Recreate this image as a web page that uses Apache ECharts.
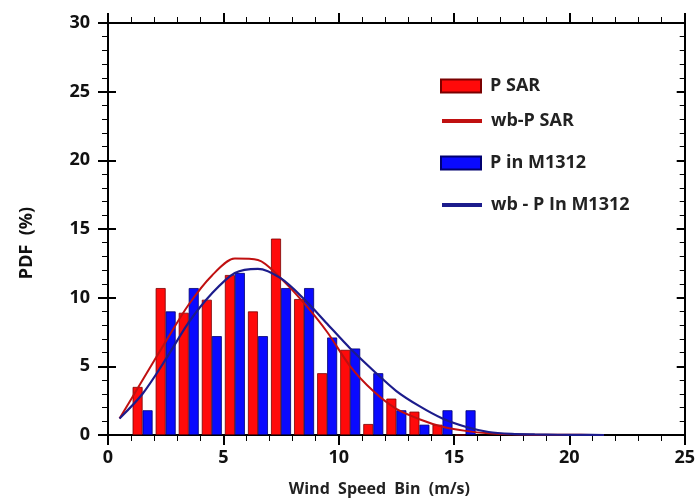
<!DOCTYPE html>
<html>
<head>
<meta charset="utf-8">
<script src="https://cdn.jsdelivr.net/npm/echarts@6/dist/echarts.min.js"></script>
<style>html,body{margin:0;padding:0;background:#fff}#c{width:698px;height:502px}</style>
</head>
<body>
<div id="c"></div>
<script>
// Bin centres (m/s)
const binCenters = [1.5, 2.5, 3.5, 4.5, 5.5, 6.5, 7.5, 8.5, 9.5, 10.5, 11.5, 12.5, 13.5, 14.5, 15.5];
// Histogram values (%)
const pSAR   = [3.5, 10.7, 8.9, 9.85, 11.65, 9.0, 14.3, 9.9, 4.5, 6.2, 0.8, 2.65, 1.7, 0.75, 0];
const pM1312 = [1.8, 9.0, 10.7, 7.2, 11.8, 7.2, 10.7, 10.7, 7.1, 6.3, 4.5, 1.8, 0.75, 1.8, 1.8];
// Fitted curves
const curveX    = [0.5, 1.5, 2.5, 3.5, 4.5, 5.5, 6.5, 7.5, 8.5, 9.5, 10.5, 11.5, 12.5, 13.5, 14.5, 15.5, 16.5, 17.5, 18.5, 19.5, 20.5, 21.5];
const wbSAR     = [1.2, 4.0, 6.8, 9.5, 11.6, 12.85, 12.75, 11.4, 9.6, 7.5, 5.0, 3.2, 1.9, 1.15, 0.6, 0.3, 0.12, 0.05, 0.02, 0.01, 0.01, 0];
const wbM1312   = [1.2, 3.0, 5.5, 8.2, 10.3, 11.8, 12.1, 11.4, 9.9, 8.1, 6.3, 4.7, 3.2, 2.1, 1.2, 0.6, 0.22, 0.08, 0.04, 0.02, 0.01, 0];
// Ticks
const xTicks = [0, 5, 10, 15, 20, 25];
const yTicks = [0, 5, 10, 15, 20, 25, 30];

const names = ['P SAR', 'wb-P SAR', 'P in M1312', 'wb - P In M1312'];
const zip = (xs, ys) => xs.map((x, i) => [x, ys[i]]);

const chart = echarts.init(document.getElementById('c'), null, {renderer: 'canvas'});
const axisLine = {show: true, onZero: false, lineStyle: {color: '#000', width: 2}};
const labelFont = {color: '#111', fontSize: 18, fontFamily: 'Open Sans', fontWeight: 'bold'};
const legendText = {color: '#222', fontSize: 18, fontFamily: 'Open Sans', fontWeight: 'bold', padding: [0, 0, 0, 4]};
const legendTops = [72, 107, 149, 191];

chart.setOption({
  animation: false,
  backgroundColor: '#fff',
  grid: {left: 108, right: 7, top: 23, bottom: 65, containLabel: false},
  legend: names.map((n, i) => ({
    data: [i % 2 === 0
      ? {name: n, icon: 'rect'}
      : {name: n, lineStyle: {width: 4}, itemStyle: {opacity: 0}}],
    left: 435, top: legendTops[i], itemWidth: 40, itemHeight: 13,
    textStyle: legendText, selectedMode: false
  })),
  xAxis: [{
    type: 'value', min: xTicks[0], max: xTicks[xTicks.length - 1], interval: 5, position: 'bottom',
    axisLine, splitLine: {show: false},
    axisTick: {show: true, length: 10, lineStyle: {color: '#000', width: 2}},
    minorTick: {show: true, splitNumber: 5, length: 6, lineStyle: {color: '#000', width: 1}},
    axisLabel: Object.assign({margin: 14}, labelFont),
    name: 'Wind  Speed  Bin  (m/s)', nameLocation: 'middle', nameGap: 46,
    nameTextStyle: {color: '#222', fontSize: 16, fontFamily: 'Open Sans', fontWeight: 'bold', padding: [0, 34, 0, 0]}
  }, {
    type: 'value', min: 0, max: 25, interval: 5, position: 'top',
    axisLine, splitLine: {show: false},
    axisTick: {show: true, length: 10, lineStyle: {color: '#000', width: 2}},
    minorTick: {show: true, splitNumber: 5, length: 6, lineStyle: {color: '#000', width: 1}},
    axisLabel: {show: false}
  }],
  yAxis: [{
    type: 'value', min: yTicks[0], max: yTicks[yTicks.length - 1], interval: 5, position: 'left',
    axisLine, splitLine: {show: false},
    axisTick: {show: true, length: 10, lineStyle: {color: '#000', width: 2}},
    minorTick: {show: true, splitNumber: 5, length: 6, lineStyle: {color: '#000', width: 1}},
    axisLabel: Object.assign({margin: 18}, labelFont),
    name: 'PDF  (%)', nameLocation: 'middle', nameGap: 72, nameRotate: 90,
    nameTextStyle: {color: '#111', fontSize: 18, fontFamily: 'Open Sans', fontWeight: 'bold', padding: [0, 28, 0, 0]}
  }, {
    type: 'value', min: 0, max: 30, interval: 5, position: 'left',
    axisLine: {show: false, onZero: false}, splitLine: {show: false},
    axisTick: {show: true, inside: true, length: 8, lineStyle: {color: '#000', width: 2}},
    axisLabel: {show: false}
  }, {
    type: 'value', min: 0, max: 30, interval: 5, position: 'right',
    axisLine, splitLine: {show: false},
    axisTick: {show: true, inside: true, length: 8, lineStyle: {color: '#000', width: 2}},
    minorTick: {show: true, splitNumber: 5, length: 5, lineStyle: {color: '#000', width: 1}},
    axisLabel: {show: false}
  }],
  series: [{
    name: names[0], type: 'bar', data: zip(binCenters, pSAR), barWidth: 10, barGap: '0%',
    itemStyle: {color: '#ff0a0a', borderColor: '#7a0000', borderWidth: 0.8}, z: 2
  }, {
    name: names[1], type: 'line', data: zip(curveX, wbSAR), symbol: 'none', smooth: 0.3,
    lineStyle: {color: '#c01010', width: 2}, itemStyle: {color: '#a00000'}, z: 5
  }, {
    name: names[2], type: 'bar', data: zip(binCenters, pM1312), barWidth: 10, barGap: '0%',
    itemStyle: {color: '#0a0aff', borderColor: '#000070', borderWidth: 0.8}, z: 2
  }, {
    name: names[3], type: 'line', data: zip(curveX, wbM1312), symbol: 'none', smooth: 0.3,
    lineStyle: {color: '#1c1c8c', width: 2.2}, itemStyle: {color: '#10106e'}, z: 6
  }]
});
</script>
</body>
</html>
